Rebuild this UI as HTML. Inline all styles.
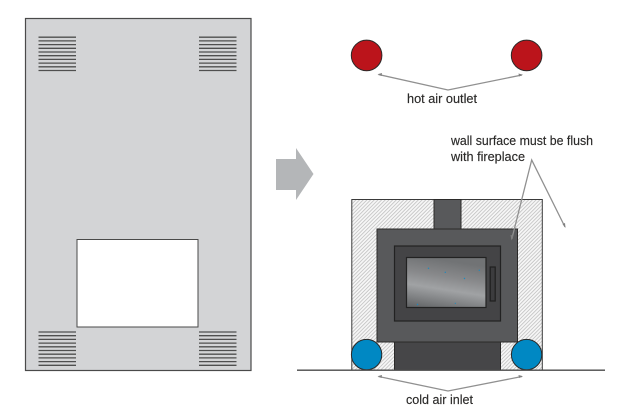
<!DOCTYPE html>
<html>
<head>
<meta charset="utf-8">
<style>
html,body{margin:0;padding:0;background:#fff;width:620px;height:419px;overflow:hidden}
svg{display:block}
text{font-family:"Liberation Sans",sans-serif;font-size:13px;fill:#2b2a29;stroke:#2b2a29;stroke-width:.15}
</style>
</head>
<body>
<svg width="620" height="419" viewBox="0 0 620 419" xmlns="http://www.w3.org/2000/svg">
<defs>
<pattern id="h" width="2.6" height="2.6" patternUnits="userSpaceOnUse" patternTransform="rotate(45)">
<rect width="2.6" height="2.6" fill="#f6f6f6"/>
<rect width="0.8" height="2.6" fill="#c2c2c2"/>
</pattern>
<linearGradient id="g" x1="0" y1="1" x2="0.25" y2="0">
<stop offset="0" stop-color="#5e6062"/>
<stop offset=".2" stop-color="#7c7e80"/>
<stop offset=".45" stop-color="#a0a2a4"/>
<stop offset=".7" stop-color="#88898b"/>
<stop offset="1" stop-color="#717375"/>
</linearGradient>
<path id="v" stroke="#4f4f4f" stroke-width="1.3" fill="none" d="M0 .5h37.5M0 4.2h37.5M0 7.9h37.5M0 11.6h37.5M0 15.3h37.5M0 19h37.5M0 22.7h37.5M0 26.4h37.5M0 30.1h37.5M0 33.8h37.5"/>
</defs>

<rect x="25.5" y="18.5" width="225.5" height="352" fill="#d3d4d6" stroke="#4a4a4a" stroke-width="1.2"/>
<rect x="77" y="239.5" width="121" height="87.5" fill="#fff" stroke="#4a4a4a" stroke-width="1"/>
<use href="#v" x="38.5" y="36.7"/>
<use href="#v" x="199" y="36.7"/>
<use href="#v" x="38.5" y="331.5"/>
<use href="#v" x="199" y="331.5"/>

<polygon points="276,159 296,159 296,148 313.5,174 296,200 296,190 276,190" fill="#b4b6b8"/>

<circle cx="366.6" cy="55.4" r="15.3" fill="#bb141b" stroke="#2b2a29" stroke-width="1"/>
<circle cx="526.6" cy="55.4" r="15.3" fill="#bb141b" stroke="#2b2a29" stroke-width="1"/>
<polyline points="378.5,74.5 448,90 522,75" fill="none" stroke="#909090" stroke-width="1.3"/>
<polygon points="377.5,74.3 382,73 381.5,76" fill="#808080"/>
<polygon points="523,74.8 518.5,73.5 519,76.5" fill="#808080"/>
<text x="407" y="103" textLength="70" lengthAdjust="spacingAndGlyphs">hot air outlet</text>

<text x="451" y="145" textLength="142" lengthAdjust="spacingAndGlyphs">wall surface must be flush</text>
<text x="451" y="161" textLength="74" lengthAdjust="spacingAndGlyphs">with fireplace</text>

<rect x="351.8" y="199.5" width="190.5" height="170.5" fill="url(#h)" stroke="#3a3a3a" stroke-width="1"/>
<rect x="434" y="199.5" width="27" height="30" fill="#58595b" stroke="#2b2a29" stroke-width="1"/>
<rect x="394.5" y="342" width="106" height="28" fill="#464648" stroke="#2b2a29" stroke-width="1"/>
<rect x="377" y="229" width="140.5" height="113" fill="#58595b" stroke="#2b2a29" stroke-width="1"/>
<rect x="394.5" y="246" width="106" height="75" fill="#444446" stroke="#222" stroke-width="1.2"/>
<rect x="406.5" y="257.5" width="79.5" height="50" fill="url(#g)" stroke="#222" stroke-width="1.2"/>
<rect x="490.2" y="267" width="5" height="34" fill="#3c3c3e" stroke="#1f1f1f" stroke-width="1.2"/>
<g fill="#1a8ac0">
<circle cx="428.5" cy="268.3" r=".7"/><circle cx="445.3" cy="272.3" r=".7"/><circle cx="464.5" cy="278.5" r=".7"/><circle cx="479.3" cy="270.3" r=".7"/><circle cx="417.5" cy="304.5" r=".7"/><circle cx="455.3" cy="303.3" r=".6"/>
</g>

<circle cx="366.6" cy="354.6" r="15.2" fill="#0088c3" stroke="#2b2a29" stroke-width="1"/>
<circle cx="526.6" cy="354.6" r="15.2" fill="#0088c3" stroke="#2b2a29" stroke-width="1"/>
<line x1="297" y1="370.2" x2="605" y2="370.2" stroke="#4a4a4a" stroke-width="1.3"/>

<polyline points="378.5,376.5 448,391 522,376.5" fill="none" stroke="#909090" stroke-width="1.3"/>
<polygon points="377.5,376.3 382,375 381.5,378" fill="#808080"/>
<polygon points="523,376.3 518.5,375 519,378" fill="#808080"/>
<text x="406" y="404" textLength="67" lengthAdjust="spacingAndGlyphs">cold air inlet</text>

<polyline points="511.8,239 531.7,160 565,227" fill="none" stroke="#909090" stroke-width="1.3"/>
<polygon points="511.5,240.5 510.5,235 513.5,235.5" fill="#808080"/>
<polygon points="565.5,228 562.5,224 565,223" fill="#808080"/>
</svg>
</body>
</html>
